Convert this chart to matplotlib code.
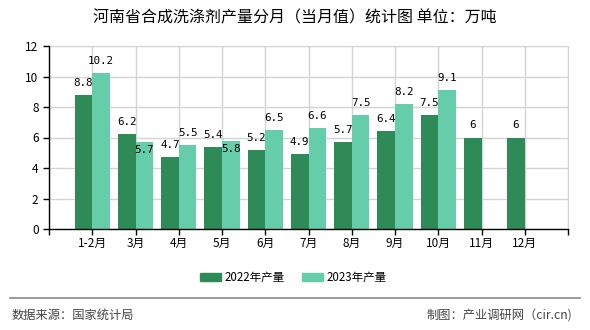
import matplotlib
matplotlib.use("Agg")
import matplotlib.pyplot as plt
from matplotlib.patches import Rectangle
from matplotlib.lines import Line2D
import numpy as np

plt.rcParams['font.family'] = ['Noto Sans CJK SC', 'DejaVu Sans']

categories = ["1-2月", "3月", "4月", "5月", "6月", "7月", "8月", "9月", "10月", "11月", "12月"]
values_2022 = [8.8, 6.2, 4.7, 5.4, 5.2, 4.9, 5.7, 6.4, 7.5, 6, 6]
values_2023 = [10.2, 5.7, 5.5, 5.8, 6.5, 6.6, 7.5, 8.2, 9.1, None, None]
series_names = ["2022年产量", "2023年产量"]
title = "河南省合成洗涤剂产量分月（当月值）统计图 单位：万吨"
source_left = "数据来源：国家统计局"
source_right = "制图：产业调研网（cir.cn)"

c1 = "#2e8b57"
c2 = "#66cdaa"

W, H = 590, 330
fig = plt.figure(figsize=(W / 100, H / 100), dpi=100)
ax = fig.add_axes([49 / W, 1 - 229 / H, (568 - 49) / W, (229 - 46) / H])

x = np.arange(len(categories))
bw = 0.41
ax.bar(x - bw / 2, values_2022, width=bw, color=c1, zorder=3)
x2 = [xi for xi, v in zip(x, values_2023) if v is not None]
v2 = [v for v in values_2023 if v is not None]
ax.bar(np.array(x2) + bw / 2, v2, width=bw, color=c2, zorder=3)

lblfont = dict(family=['DejaVu Sans Mono'], fontsize=7.8, color='black')
for xi, v in zip(x, values_2022):
    ax.annotate("%g" % v, (xi - bw / 2, v), xytext=(0, 12), textcoords='offset pixels',
                ha='center', va='center', zorder=5, **lblfont)
inside = {1, 3}
for xi, v in zip(x2, v2):
    dy = -8 if xi in inside else 12
    ax.annotate("%g" % v, (xi + bw / 2, v), xytext=(0, dy), textcoords='offset pixels',
                ha='center', va='center', zorder=5, **lblfont)

ax.set_xlim(-1, len(categories))
ax.set_ylim(0, 12)
ax.set_yticks(range(0, 13, 2))
ax.set_xticks(np.arange(-1, len(categories) + 1))
ax.set_xticklabels([""] + categories + [""])
ax.tick_params(axis='both', labelsize=8.5, length=4, width=1, color='black')
ax.tick_params(axis='x', pad=2)
ax.grid(True, color='#d3d3d3', linewidth=1, zorder=0)
for s in ['top', 'right']:
    ax.spines[s].set_color('#d3d3d3')
for s in ['left', 'bottom']:
    ax.spines[s].set_color('black')
    ax.spines[s].set_linewidth(1)
    ax.spines[s].set_zorder(4)

fig.text(0.5, 1 - 18 / H, title, ha='center', va='center', fontsize=11.5)

# legend
fig.patches.append(Rectangle((200 / W, 1 - 281 / H), 21 / W, 8 / H, transform=fig.transFigure, color=c1))
fig.text(225 / W, 1 - 277 / H, series_names[0], ha='left', va='center', fontsize=8.3)
fig.patches.append(Rectangle((302 / W, 1 - 281 / H), 21 / W, 8 / H, transform=fig.transFigure, color=c2))
fig.text(327 / W, 1 - 277 / H, series_names[1], ha='left', va='center', fontsize=8.3)

fig.add_artist(Line2D([10 / W, 580 / W], [1 - 298 / H, 1 - 298 / H], transform=fig.transFigure, color='#888888', linewidth=1.2))
fig.text(12 / W, 1 - 315 / H, source_left, ha='left', va='center', fontsize=8.8, color='#444444')
fig.text(572 / W, 1 - 315 / H, source_right, ha='right', va='center', fontsize=8.8, color='#444444')

fig.savefig("out.png", dpi=100)
